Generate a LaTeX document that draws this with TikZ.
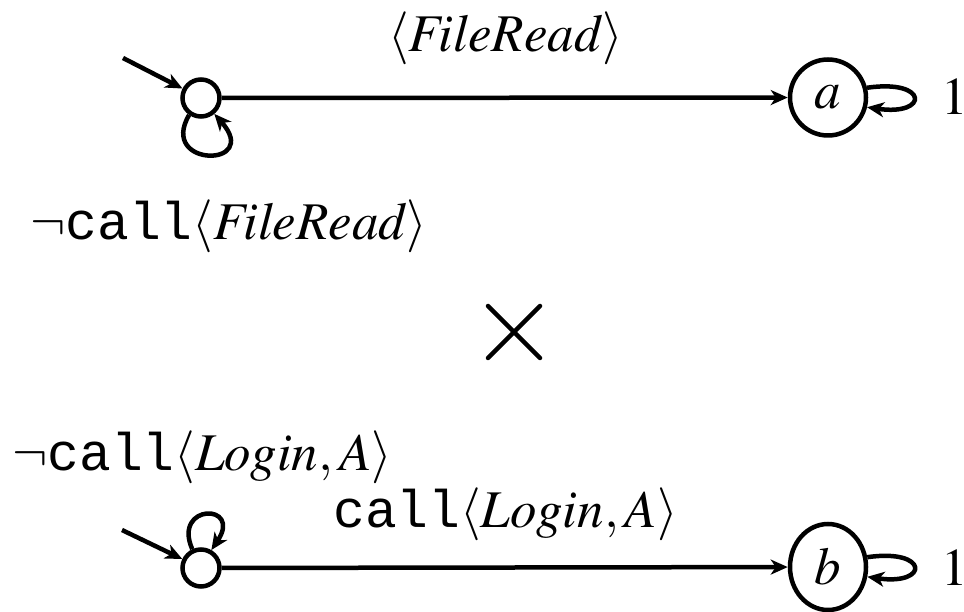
\documentclass[tikz,border=0pt]{standalone}
\usepackage{mathptmx}
\usepackage[no-math]{fontspec}
\setmainfont{Liberation Serif}
\newfontfamily\callfont{Liberation Mono}
\usetikzlibrary{arrows.meta,shapes.geometric}

\DeclareMathSizes{53}{53}{37}{27}
\newcommand{\callop}{\mbox{\callfont call}}

\tikzset{
  every picture/.style={x=1pt,y=1pt},
  lbl/.style={inner sep=0pt,font=\fontsize{53}{60}\selectfont},
  initst/.style={circle,draw,line width=4.5pt,minimum size=37pt,inner sep=0pt},
  accst/.style={circle,draw,line width=4.5pt,minimum size=76pt,inner sep=0pt,font=\fontsize{53}{60}\selectfont},
  accell/.style={ellipse,draw,line width=4.5pt,minimum width=76pt,minimum height=86pt,inner sep=0pt,font=\fontsize{53}{60}\selectfont},
  edge/.style={line width=4.5pt,-{Stealth[length=17pt,width=15pt,inset=5pt]}},
  cross/.style={line width=4.5pt,line cap=round}
}

\begin{document}
\begin{tikzpicture}
\useasboundingbox (0,0) rectangle (964,611);

% upper automaton
\node[initst] (s1) at (201,513) {};
\node[accst] (a) at (828,513.5) {$a$};
\coordinate (i1) at (123,553);
\draw[edge] (i1) -- (s1);
\draw[edge] (s1) -- (a);
\draw[edge] (s1.235) .. controls (158,443) and (262,443) .. (s1.-50);
\draw[edge] (a.14) .. controls +(62,9) and +(62,-9) .. (a.-14);
\node[lbl,anchor=base west] (la) at (388,559) {$\langle \mathit{FileRead}\rangle$};
\node[lbl,anchor=base west] (l1) at (30,371) {$\neg\callop\langle \mathit{FileRead}\rangle$};
\node[lbl,anchor=base west] (wa) at (941,496) {$1$};

% product sign
\coordinate (x1) at (488,305);
\coordinate (x2) at (540,253);
\coordinate (x3) at (488,253);
\coordinate (x4) at (540,305);
\draw[cross] (x1) -- (x2);
\draw[cross] (x3) -- (x4);

% lower automaton
\node[initst] (s2) at (201,43) {};
\node[accell] (b) at (828,44) {$b$};
\coordinate (i2) at (122,81);
\draw[edge] (i2) -- (s2);
\draw[edge] (s2) -- (b);
\draw[edge] (s2.115) .. controls (172,108) and (243,108) .. (s2.60);
\draw[edge] (b.14) .. controls +(62,9) and +(62,-9) .. (b.-14);
\node[lbl,anchor=base west] (l2) at (12,141) {$\neg\callop\langle \mathit{Login},A\rangle$};
\node[lbl,anchor=base west] (lb) at (333,84) {$\callop\langle \mathit{Login},A\rangle$};
\node[lbl,anchor=base west] (wb) at (941,26) {$1$};
\end{tikzpicture}
\end{document}
